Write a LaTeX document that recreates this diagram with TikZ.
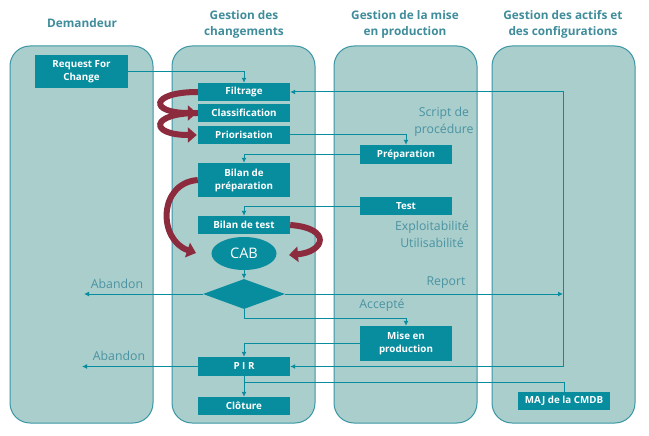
\documentclass[tikz,border=0pt]{standalone}
\usepackage{fontspec}
\setmainfont{Open Sans}
\usetikzlibrary{arrows.meta,shapes.geometric}
\definecolor{lanefill}{HTML}{AACECB}
\definecolor{laneline}{HTML}{3A95A5}
\definecolor{boxfill}{HTML}{088D9F}
\definecolor{titlecol}{HTML}{3F8C9B}
\definecolor{labelcol}{HTML}{4A93A3}
\definecolor{loopcol}{HTML}{8C2B3D}
\tikzset{lane/.style = {fill=lanefill, draw=laneline, line width=1pt, rounded corners=20pt}}
\tikzset{stepbox/.style = {fill=boxfill, text=white, font=\bfseries\fontsize{9.8}{13}\selectfont, minimum width=92pt, minimum height=18pt, inner sep=0pt, align=center}}
\tikzset{arr/.style = {draw=boxfill, line width=1pt, -{Latex[length=5pt,width=5pt]}}}
\tikzset{loop/.style = {draw=loopcol, line width=6pt, -{Triangle[length=9pt,width=15pt]}}}

\begin{document}
\begin{tikzpicture}[x=1pt,y=-1pt]
	\tikzstyle{lanetitle}=[text=titlecol, font=\bfseries\fontsize{11.8}{16}\selectfont, align=center]
	\tikzstyle{note}=[text=labelcol, font=\fontsize{12.3}{17}\selectfont, align=center]
	\useasboundingbox (0,0) rectangle (649,436);
	\draw[lane] (10,46) rectangle (153,423);
	\draw[lane] (172,46) rectangle (315,423);
	\draw[lane] (334,46) rectangle (477,423);
	\draw[lane] (492,46) rectangle (635,423);
	\node[lanetitle] (tdem) at (82,23) {Demandeur};
	\node[lanetitle] (tchg) at (244,24) {Gestion des\\changements};
	\node[lanetitle] (tmep) at (405,24) {Gestion de la mise\\en production};
	\node[lanetitle] (tact) at (563,24) {Gestion des actifs et\\des configurations};
	\node[stepbox, minimum width=93pt, minimum height=33pt] (rfc) at (81.5,72) {Request For\\Change};
	\node[stepbox] (filt) at (244,92) {Filtrage};
	\node[stepbox] (classif) at (244,113) {Classification};
	\node[stepbox] (prio) at (244,135) {Priorisation};
	\node[stepbox, minimum height=34pt] (bprep) at (244,180) {Bilan de\\préparation};
	\node[stepbox] (btest) at (244,225) {Bilan de test};
	\node[ellipse, fill=boxfill, text=white, minimum width=65pt, minimum height=33pt, inner sep=0pt, font=\fontsize{14.5}{16}\selectfont] (cab) at (244,253.5) {CAB};
	\node[diamond, fill=boxfill, aspect=2.73, minimum width=82pt, minimum height=30pt, inner sep=0pt] (dia) at (244,294) {};
	\node[stepbox, minimum height=19pt] (pir) at (244,366.5) {P I R};
	\node[stepbox] (clot) at (244,406) {Clôture};
	\node[stepbox, minimum height=19pt] (prep) at (406,154.5) {Préparation};
	\node[stepbox] (test) at (406,206) {Test};
	\node[stepbox, minimum height=35pt] (mep) at (406,343.5) {Mise en\\production};
	\node[stepbox] (maj) at (564,401) {MAJ de la CMDB};
	\node[note] (script) at (444,122) {Script de\\procédure};
	\node[note] (exploit) at (432,234) {Exploitabilité\\Utilisabilité};
	\node[note] (report) at (446,283) {Report};
	\node[note] (accept) at (382,305) {Accepté};
	\node[note] (aband1) at (117,284) {Abandon};
	\node[note] (aband2) at (119,356) {Abandon};
	\coordinate (ab1) at (84,294);
	\coordinate (ab2) at (82,366.5);
	\coordinate (rtop) at (563,92);
	\coordinate (rbot) at (563,366.5);
	\coordinate (cmdb) at (244,382);
	\draw[arr] (rfc.east) -| (filt.north);
	\draw[arr] (prio.east) -| (prep.north);
	\draw[arr] (prep.west) -| (bprep.north);
	\draw[arr] (test.west) -| (btest.north);
	\draw[arr] (cab.south) -- (dia.north);
	\draw[arr] (dia.west) -- (ab1);
	\draw[arr] (dia.east) -- (dia.east -| rtop);
	\draw[arr] (rbot) |- (filt.east);
	\draw[arr] (rbot) -- (pir.east);
	\draw[arr] (dia.south) -- ++(0,9) -| (mep.north);
	\draw[arr] (mep.west) -| (pir.north);
	\draw[arr] (pir.west) -- (ab2);
	\draw[arr] (pir.south) -- (clot.north);
	\draw[draw=boxfill, line width=1pt] (cmdb) -| (maj.north);
	\draw[loop] (filt.west) .. controls +(-48,0) and +(-48,0) .. ([xshift=-1pt]classif.west);
	\draw[loop] (classif.west) .. controls +(-48,0) and +(-48,0) .. ([xshift=-1pt]prio.west);
	\draw[loop] (bprep.west) .. controls (158,183) and (158,240) .. (196,253);
	\draw[loop] (btest.east) .. controls (332,228) and (325,252) .. (289,255);
\end{tikzpicture}
\end{document}
